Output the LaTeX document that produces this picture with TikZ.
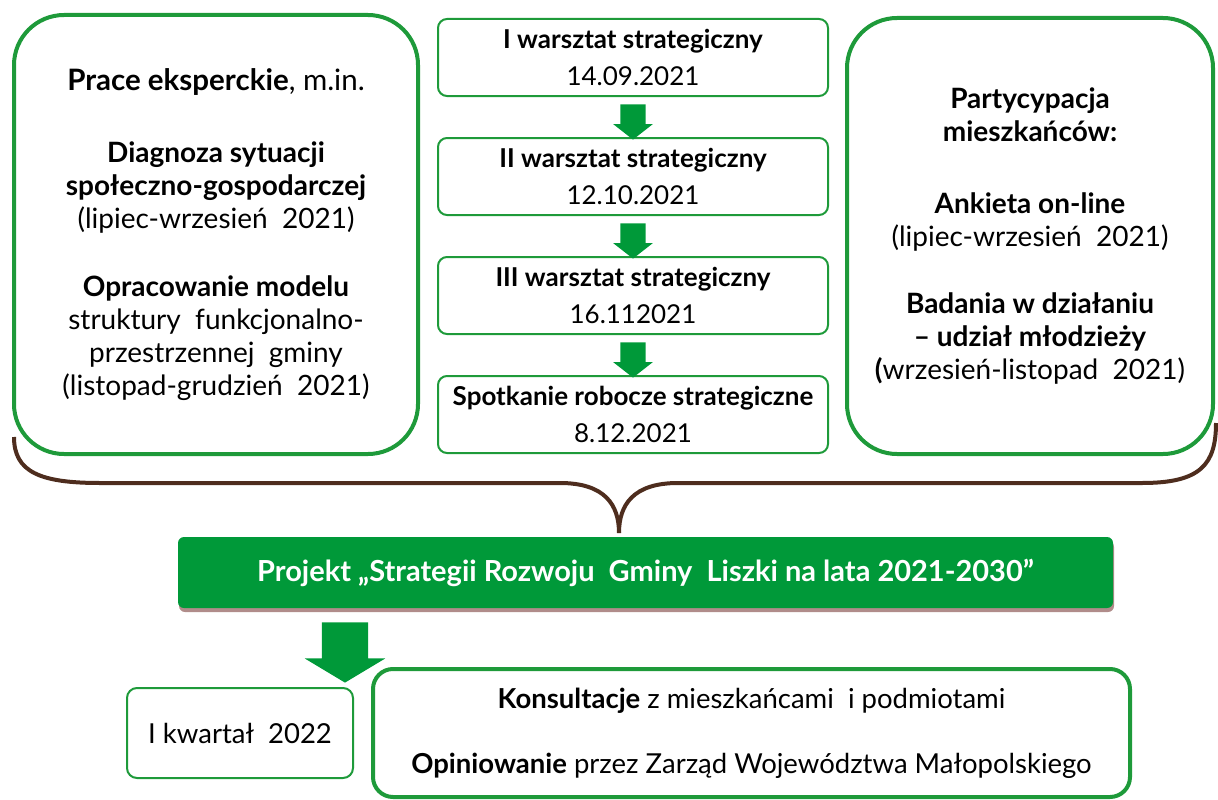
\documentclass[tikz,border=0pt]{standalone}
\usepackage{fontspec}
\setmainfont{Lato}
\usetikzlibrary{shapes.arrows}
\usetikzlibrary{shadows}
\usetikzlibrary{calc}
\definecolor{ramka}{RGB}{30,154,58}
\definecolor{zielony}{RGB}{0,153,57}
\definecolor{braz}{RGB}{78,45,30}
\definecolor{cien}{RGB}{176,140,138}
\tikzstyle{duzy}=[draw=ramka, line width=4pt, rounded corners=50pt, align=center, font=\fontsize{28}{33}\selectfont]
\tikzstyle{warsztat}=[draw=ramka, line width=2pt, rounded corners=9pt, minimum width=390pt, minimum height=77pt, align=center, font=\fontsize{26}{37}\selectfont]
\tikzstyle{strzalka}=[single arrow, fill=zielony, shape border rotate=270, inner sep=12.5pt, single arrow head extend=7pt, single arrow tip angle=104, minimum height=30pt]

\begin{document}
\begin{tikzpicture}[x=1pt, y=-1pt]
        \useasboundingbox (0,0) rectangle (1218,800);
        \node[duzy, minimum width=404pt, minimum height=439pt] (eksp) at (216,234.5) {{\fontsize{29.5}{33}\selectfont\textbf{Prace eksperckie}, m.in.}\\[39pt] \textbf{Diagnoza sytuacji}\\ \textbf{społeczno-gospodarczej}\\ (lipiec-wrzesień\ \ 2021)\\[35pt] \textbf{Opracowanie modelu}\\ struktury\ \ funkcjonalno-\\ przestrzennej\ \ gminy\\ (listopad-grudzień\ \ 2021)};
        \node[duzy, minimum width=366pt, minimum height=436pt] (part) at (1030,236) {\textbf{Partycypacja}\\ \textbf{mieszkańców:}\\[39pt] \textbf{Ankieta on-line}\\ (lipiec-wrzesień\ \ 2021)\\[34pt] \textbf{Badania w działaniu}\\ \textbf{– udział młodzieży}\\ \textbf{(}wrzesień-listopad\ \ 2021)};
        \foreach \i/\tyt/\dat in {1/I warsztat strategiczny/14.09.2021, 2/II warsztat strategiczny/12.10.2021, 3/III warsztat strategiczny/16.112021, 4/Spotkanie robocze strategiczne/8.12.2021}
            \node[warsztat] (w\i) at (633,{57.5+119*(\i-1)}) {\textbf{\tyt}\\ \dat};
        \foreach \i/\j in {1/2, 2/3, 3/4}
            \node[strzalka] (s\i) at ($(w\i.south)!0.5!(w\j.north)$) {};
        \node[fill=zielony, rounded corners=6pt, minimum width=935pt, minimum height=71pt, text=white, font=\fontsize{29}{32}\selectfont\bfseries, drop shadow={shadow xshift=1pt, shadow yshift=-4pt, fill=cien, opacity=1}] (proj) at (645.5,572.5) {Projekt „Strategii Rozwoju\ \ Gminy\ \ Liszki na lata 2021-2030”};
        \coordinate (szpic) at (619,533);
        \draw[braz, line width=4pt] (14,437) .. controls (14,472) and (40,483) .. (100,483) -- (560,483) .. controls (605,483) and (619,505) .. (szpic);
        \draw[braz, line width=4pt] (szpic) .. controls (619,505) and (633,483) .. (678,483) -- (1142,483) .. controls (1200,483) and (1216,465) .. (1216,423);
        \node[strzalka, inner sep=23pt, single arrow head extend=17pt, single arrow tip angle=118, minimum height=45pt] (s4) at (345,645.5) {};
        \node[draw=ramka, line width=2pt, rounded corners=10pt, minimum width=226pt, minimum height=90pt, font=\fontsize{27.5}{32}\selectfont] (kw) at (240,733) {I kwartał\ \ 2022};
        \node[draw=ramka, line width=4pt, rounded corners=20pt, minimum width=757pt, minimum height=128pt, align=center, font=\fontsize{27.5}{32}\selectfont] (kons) at (751.5,733) {\textbf{Konsultacje} z mieszkańcami\ \ i podmiotami\\[33pt] \textbf{Opiniowanie} przez Zarząd Województwa Małopolskiego};
    \end{tikzpicture}
\end{document}
